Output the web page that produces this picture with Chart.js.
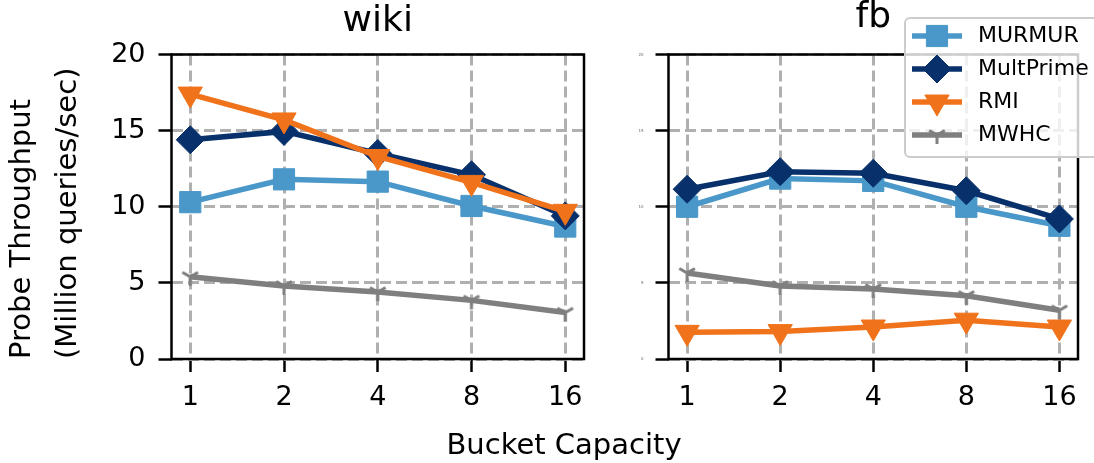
<!DOCTYPE html>
<html>
<head>
<meta charset="utf-8">
<script src="https://cdn.jsdelivr.net/npm/chart.js"></script>
<style>
  body { margin: 0; width: 1094px; height: 463px; overflow: hidden; background: #fff; position: relative; }
  canvas { position: absolute; top: 0; }
  #wiki { left: 0; }
  #fb { left: 600px; }
  .xlabel { position: absolute; left: 0; width: 1128px; top: 430px; text-align: center;
    font: 29px/28px "DejaVu Sans", sans-serif; color: #000; }
</style>
</head>
<body>
<canvas id="wiki" width="600" height="463"></canvas>
<canvas id="fb" width="494" height="463"></canvas>
<div class="xlabel">Bucket Capacity</div>
<script>
// data
const capacities = ['1', '2', '4', '8', '16'];
const seriesNames = ['MURMUR', 'MultPrime', 'RMI', 'MWHC'];
const yTicks = [0, 5, 10, 15, 20];

const wikiMurmur = [10.3, 11.8, 11.65, 10.05, 8.7];
const wikiMultPrime = [14.4, 14.95, 13.5, 12.1, 9.4];
const wikiRmi = [17.4, 15.7, 13.3, 11.6, 9.7];
const wikiMwhc = [5.4, 4.8, 4.4, 3.85, 3.05];

const fbMurmur = [10.0, 11.85, 11.7, 10.0, 8.75];
const fbMultPrime = [11.15, 12.3, 12.2, 11.05, 9.2];
const fbRmi = [1.75, 1.8, 2.1, 2.55, 2.1];
const fbMwhc = [5.65, 4.8, 4.6, 4.15, 3.2];

const FONT = '"DejaVu Sans", sans-serif';
const colors = ['#4a98c9', '#08306b', '#f0731b', '#7f7f7f'];

// matplotlib '1' (tri_down) marker
function triDown(color) {
    const c = document.createElement('canvas');
    c.width = 24; c.height = 24;
    const g = c.getContext('2d');
    g.strokeStyle = color;
    g.lineWidth = 3;
    const r = 9;
    g.beginPath();
    g.moveTo(12, 12); g.lineTo(12, 12 + r);
    g.moveTo(12, 12); g.lineTo(12 - r * 0.866, 12 - r * 0.5);
    g.moveTo(12, 12); g.lineTo(12 + r * 0.866, 12 - r * 0.5);
    g.stroke();
    return c;
}

const pointStyles = ['rect', 'rectRot', 'triangle', triDown(colors[3])];
const rotations = [0, 0, 180, 0];
const radii = [15, 14, 14, 12];

function makeSets(seriesValues) {
    return seriesValues.map((vals, i) => ({
        label: seriesNames[i],
        data: vals.map((y, x) => ({ x, y })),
        borderColor: colors[i],
        backgroundColor: colors[i],
        borderWidth: 5.5,
        pointStyle: pointStyles[i],
        rotation: rotations[i],
        pointRadius: radii[i],
        pointBorderWidth: 1,
        order: 3 - i,
        clip: false,
    }));
}

const framePlugin = {
    id: 'frame',
    afterDatasetsDraw(chart) {
        const { ctx, chartArea: a } = chart;
        ctx.save();
        ctx.strokeStyle = '#000';
        ctx.lineWidth = 2.5;
        ctx.strokeRect(a.left, a.top, a.right - a.left, a.bottom - a.top);
        ctx.restore();
    }
};

const legendPlugin = {
    id: 'boxLegend',
    afterDraw(chart) {
        const ctx = chart.ctx;
        ctx.save();
        ctx.fillStyle = 'rgba(255,255,255,0.8)';
        ctx.strokeStyle = '#cccccc';
        ctx.lineWidth = 2;
        ctx.beginPath();
        ctx.roundRect(305, 18, 220, 139, 5);
        ctx.fill();
        ctx.stroke();
        chart.data.datasets.forEach((ds, i) => {
            const y = 36 + i * 33;
            ctx.strokeStyle = ds.borderColor;
            ctx.fillStyle = ds.backgroundColor;
            ctx.lineWidth = ds.borderWidth;
            ctx.beginPath();
            ctx.moveTo(312, y);
            ctx.lineTo(362, y);
            ctx.stroke();
            ctx.lineWidth = 1;
            Chart.helpers.drawPoint(ctx, {
                pointStyle: ds.pointStyle, rotation: ds.rotation,
                radius: ds.pointRadius, borderWidth: 1
            }, 337, y);
            ctx.fillStyle = '#000';
            ctx.font = '22px ' + FONT;
            ctx.textBaseline = 'middle';
            ctx.fillText(ds.label, 378, y);
        });
        ctx.restore();
    }
};

function makeOptions(title, titlePad, yAxisWidth, padRight, tickFont, showYTitle) {
    const grid = { color: '#b0b0b0', lineWidth: 3, tickLength: 13, tickColor: '#000', tickWidth: 2.5, tickBorderDash: [] };
    return {
        responsive: false,
        animation: false,
        devicePixelRatio: 1,
        layout: { padding: { top: 0, right: padRight, bottom: 0, left: 0 } },
        plugins: {
            legend: { display: false },
            tooltip: { enabled: false },
            title: {
                display: true, text: title, color: '#000', fullSize: false,
                font: { family: FONT, size: 36, weight: 'normal', lineHeight: 1 },
                padding: titlePad
            }
        },
        scales: {
            x: {
                type: 'linear', min: -0.2, max: 4.2,
                afterBuildTicks: s => { s.ticks = capacities.map((_, i) => ({ value: i })); },
                afterFit: s => { s.height = 104; },
                ticks: {
                    callback: v => capacities[v],
                    color: '#000', font: { family: FONT, size: 27 }, padding: 10, maxRotation: 0
                },
                grid: grid,
                border: { display: false, dash: [11, 5] }
            },
            y: {
                min: 0, max: 20,
                afterBuildTicks: s => { s.ticks = yTicks.map(v => ({ value: v })); },
                afterFit: s => { s.width = yAxisWidth; },
                ticks: { color: tickFont.color, font: { family: FONT, size: tickFont.size }, padding: tickFont.pad },
                grid: grid,
                border: { display: false, dash: [11, 5] },
                title: {
                    display: showYTitle,
                    align: 'start',
                    text: ['Probe Throughput', '(Million queries/sec)'],
                    color: '#000',
                    font: { family: FONT, size: 29, lineHeight: 1.58 },
                    padding: { top: 0, bottom: 0 }
                }
            }
        }
    };
}

new Chart(document.getElementById('wiki'), {
    type: 'line',
    data: { datasets: makeSets([wikiMurmur, wikiMultPrime, wikiRmi, wikiMwhc]) },
    options: makeOptions('wiki', { top: 4, bottom: 14.5 }, 171.5, 14, { size: 27, color: '#000', pad: 13 }, true),
    plugins: [framePlugin]
});

new Chart(document.getElementById('fb'), {
    type: 'line',
    data: { datasets: makeSets([fbMurmur, fbMultPrime, fbRmi, fbMwhc]) },
    options: makeOptions('fb', { top: 0, bottom: 18.5 }, 68.5, 12, { size: 4, color: '#666', pad: 12 }, false),
    plugins: [framePlugin, legendPlugin]
});
</script>
</body>
</html>
